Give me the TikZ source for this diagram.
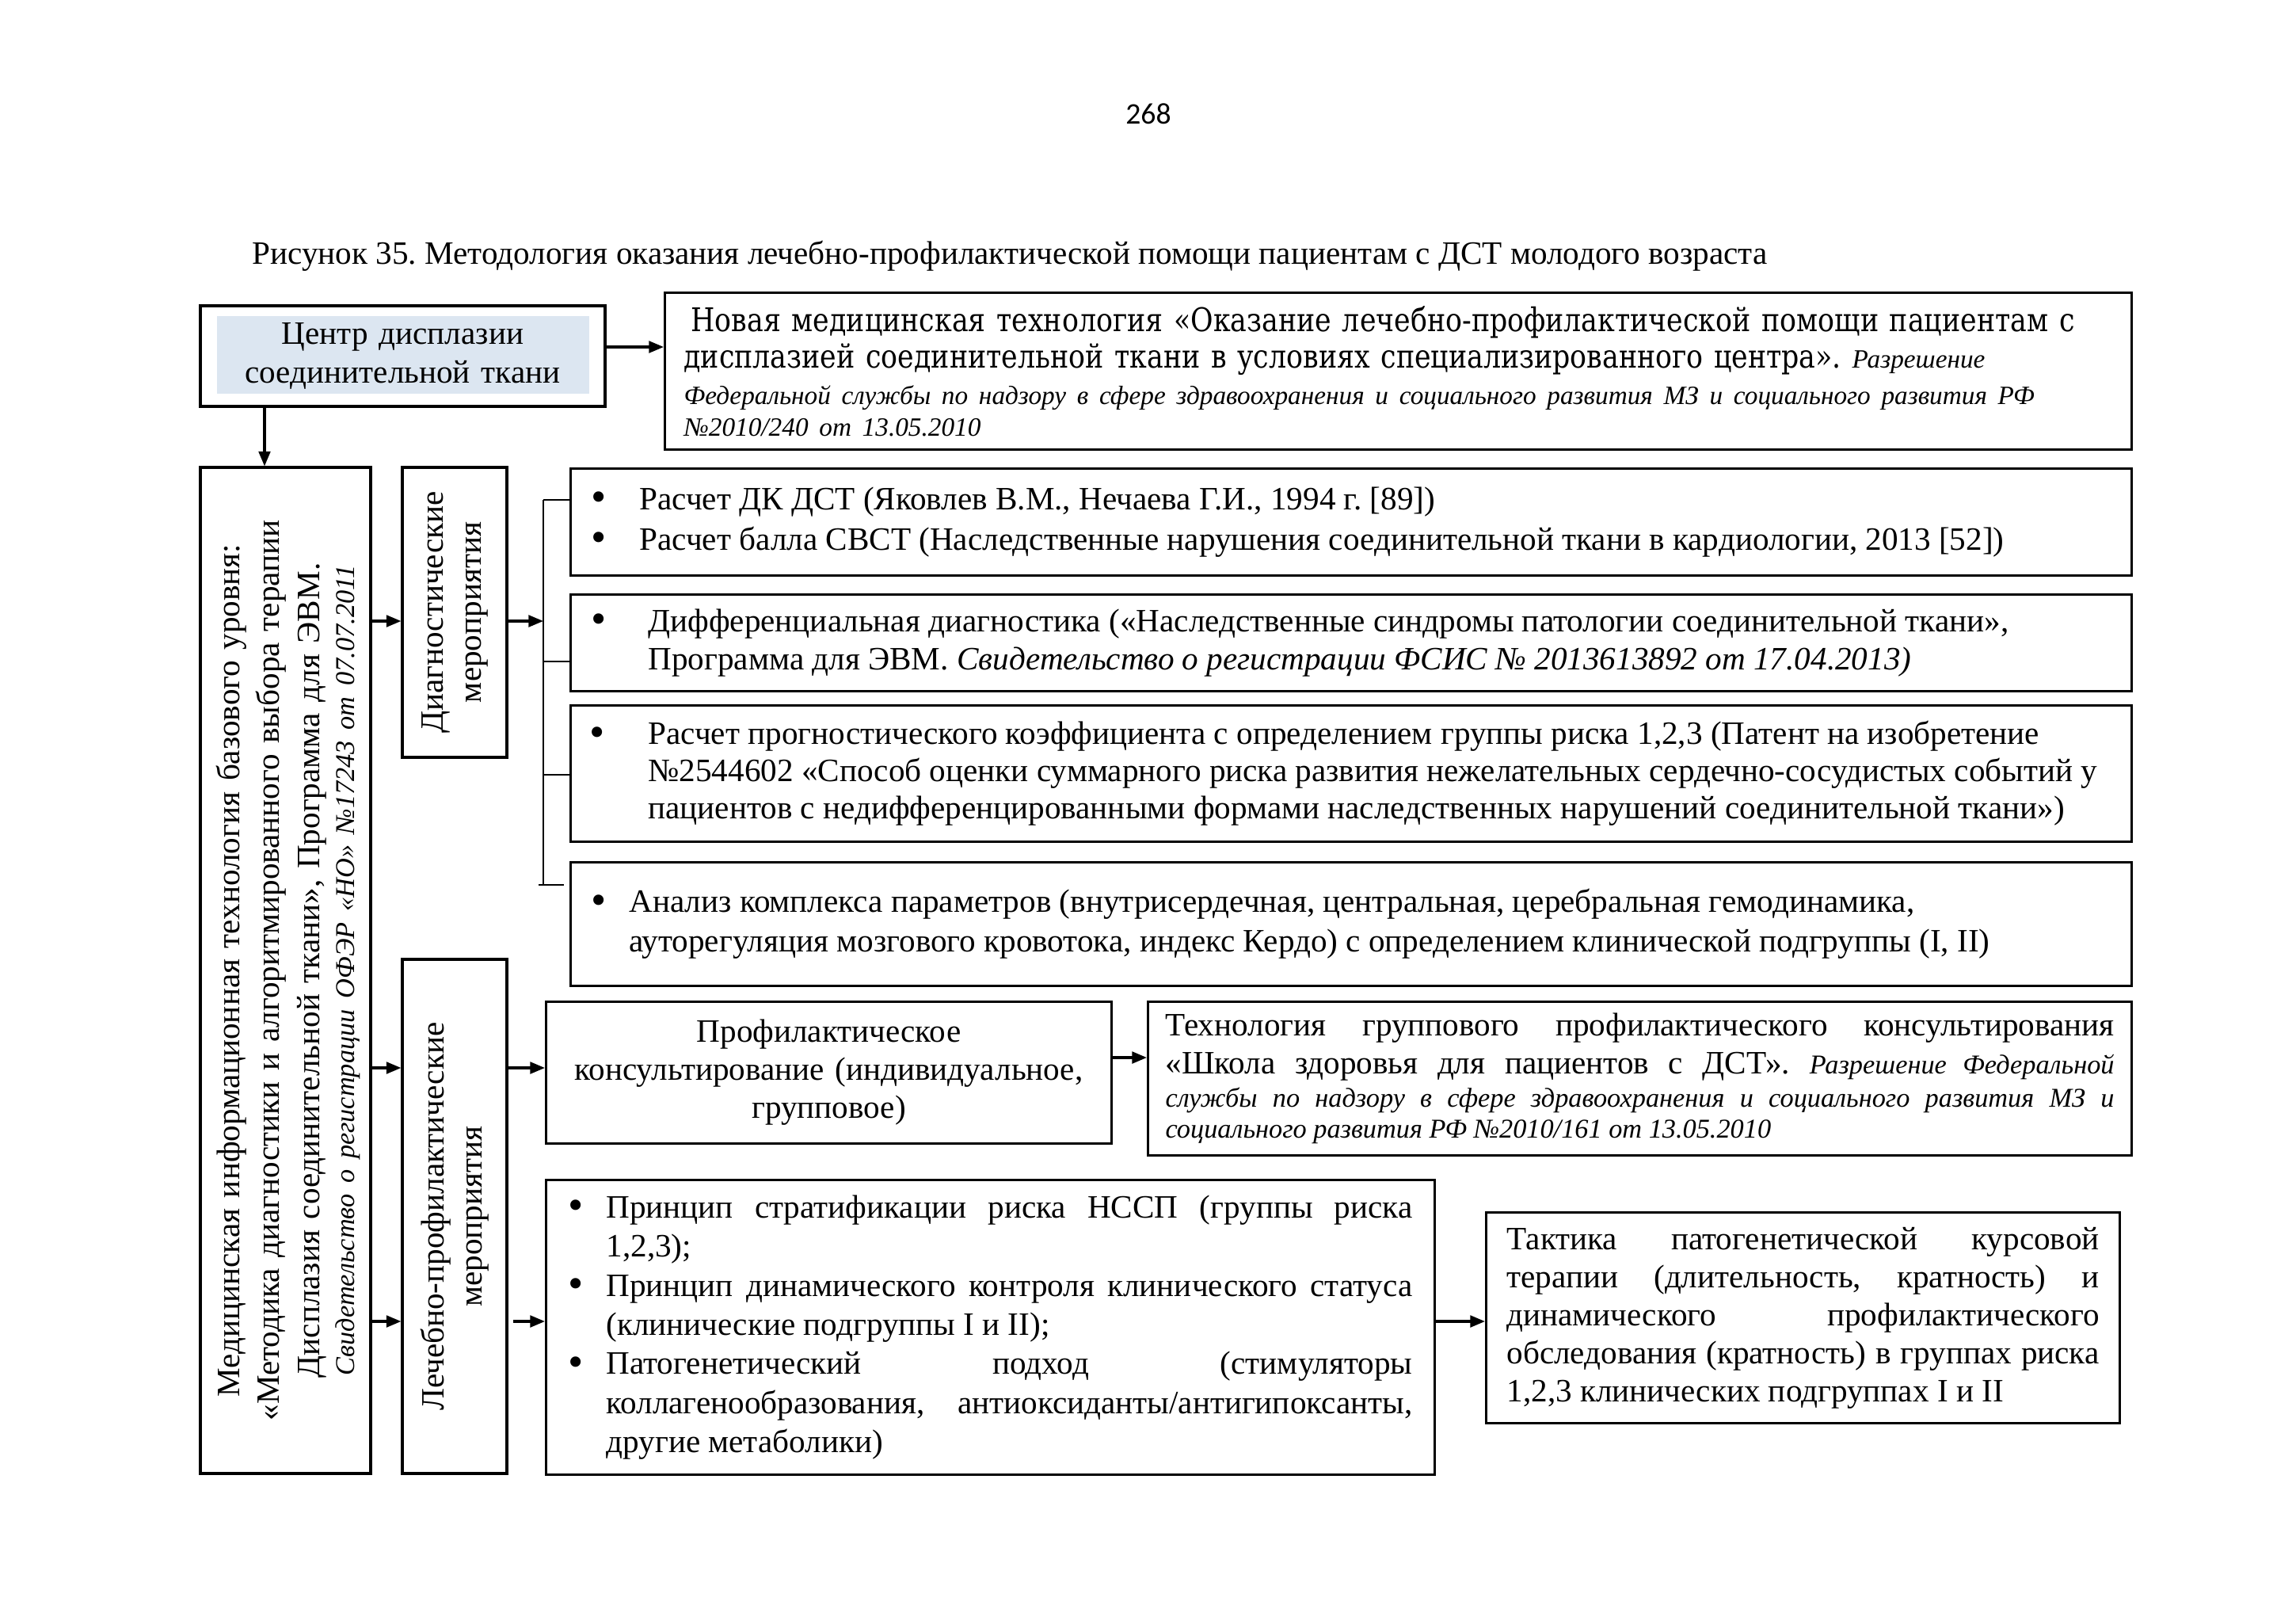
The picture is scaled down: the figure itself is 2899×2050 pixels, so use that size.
\documentclass[tikz,border=0pt]{standalone}
\usepackage{fontspec}
\setmainfont{Liberation Serif}
\newfontfamily\cambria[FakeStretch=0.845]{DejaVu Serif}
\newfontfamily\calibri{Carlito}
\usetikzlibrary{arrows.meta}
\definecolor{cfill}{HTML}{DCE6F1}
\newdimen\pxu \pxu=0.10245mm
\def\pxl{0.10245mm}
\frenchspacing
\newcommand\bigbul{\raisebox{-0.7pt}{\fontsize{16}{14}\selectfont\textbullet}}
\newcommand\bitem[2]{\noindent\hangindent=#1\pxu\hangafter=1\makebox[#1\pxu][l]{\bigbul}\ignorespaces#2\par}
\begin{document}
\begin{tikzpicture}[x=0.10245mm,y=-0.10245mm,
  box/.style={draw, line width=0.9pt, inner ysep=0pt, align=justify, anchor=north west,
    font=\fontsize{12}{14}\selectfont},
  frame/.style={draw, line width=0.9pt, inner sep=0pt},
  vtext/.style={rotate=90, inner sep=0pt, align=center, font=\fontsize{12}{14}\selectfont},
  arr/.style={line width=0.9pt, -{Triangle[length=1.9mm,width=1.5mm]}},
  brk/.style={line width=0.6pt},
]
\useasboundingbox (0,0) rectangle (2899,2050);
\fill[white] (0,0) rectangle (2899,2050);

\node[font=\calibri\fontsize{11}{13}\selectfont] (pnum) at (1450,144) {268};
\node[anchor=west, inner sep=0pt, font=\fontsize{12}{14}\selectfont\frenchspacing] (cap) at (318,323)
  {Рисунок 35. Методология оказания лечебно-профилактической помощи пациентам с ДСТ молодого возраста};

% Centre box
\node[fill=cfill, inner sep=0pt, minimum width={470*\pxl}, minimum height={98*\pxl}] (cfillbox) at (509,448) {};
\node[box, anchor=center, align=center, inner xsep={20*\pxl}, text width={471*\pxl},
  minimum height={127*\pxl}, fill=none] (centr) at (508.5,449.5)
  {Центр дисплазии\\соединительной ткани};

% New technology box
\node[box, align=left, inner xsep={24*\pxl}, text width={1804*\pxl}, minimum height={198*\pxl}] (newtech) at (838,368)
  {{\fontsize{12}{13.4}\selectfont\mbox{\cambria\hspace*{9\pxu}Новая медицинская технология «Оказание лечебно-профилактической помощи пациентам с}\newline
   \mbox{{\cambria дисплазией соединительной ткани в условиях специализированного центра».} {\fontsize{9.7}{12}\selectfont\itshape Разрешение}}\par}
   \vspace{1.8pt}
   {\fontsize{9.7}{11.6}\selectfont\itshape \mbox{Федеральной службы по надзору в сфере здравоохранения и социального развития МЗ и социального развития РФ}\newline
   \mbox{№2010/240 от 13.05.2010}\par}};

% Left big box
\node[frame, minimum width={215*\pxl}, minimum height={1270*\pxl}] (leftbox) at (360.5,1225) {};
\node[vtext, text width={1250*\pxl}] (lefttxt) at (364,1225)
  {{\fontsize{12}{14.6}\selectfont Медицинская информационная технология базового уровня:\\
   «Методика диагностики и алгоритмированного выбора терапии\\
   Дисплазия соединительной ткани», Программа для ЭВМ.\par}
   {\fontsize{10}{12.9}\selectfont\itshape Свидетельство о регистрации ОФЭР «НО» №17243 от 07.07.2011\par}};

% Diagnostic box
\node[frame, minimum width={132*\pxl}, minimum height={366*\pxl}] (diag) at (574,773) {};
\node[vtext, text width={340*\pxl}] (diagtxt) at (diag.center) {Диагностические\\мероприятия};

% Treatment box
\node[frame, minimum width={132*\pxl}, minimum height={649*\pxl}] (lech) at (574,1535.5) {};
\node[vtext, text width={620*\pxl}] (lechtxt) at (lech.center) {Лечебно-профилактические\\мероприятия};

% Diagnostic items
\node[box, inner xsep={26*\pxl}, text width={1919*\pxl}, minimum height={135*\pxl},
  font=\fontsize{12}{14.9}\selectfont] (b1) at (719,590)
  {\bitem{61}{\mbox{Расчет ДК ДСТ (Яковлев В.М., Нечаева Г.И., 1994 г. [89])}}
   \bitem{61}{\mbox{Расчет балла СВСТ (Наследственные нарушения соединительной ткани в кардиологии, 2013 [52])}}};

\node[box, inner xsep={26*\pxl}, text width={1919*\pxl}, minimum height={122*\pxl}] (b2) at (719,749)
  {\bitem{72}{\mbox{Дифференциальная диагностика («Наследственные синдромы патологии соединительной ткани»,}\newline
   \mbox{Программа для ЭВМ. \textit{Свидетельство о регистрации ФСИС № 2013613892 от 17.04.2013)}}}};

\node[box, inner xsep={24*\pxl}, text width={1923*\pxl}, minimum height={172*\pxl},
  font=\fontsize{12}{13.7}\selectfont] (b3) at (719,889)
  {\bitem{74}{\mbox{Расчет прогностического коэффициента с определением группы риска 1,2,3 (Патент на изобретение}\newline
   \mbox{№2544602 «Способ оценки суммарного риска развития нежелательных сердечно-сосудистых событий у}\newline
   \mbox{пациентов с недифференцированными формами наследственных нарушений соединительной ткани»)}}};

\node[box, inner xsep={26*\pxl}, text width={1919*\pxl}, minimum height={156*\pxl},
  font=\fontsize{12}{14.6}\selectfont] (b4) at (719,1087)
  {\bitem{48}{\mbox{Анализ комплекса параметров (внутрисердечная, центральная, церебральная гемодинамика,}\newline
   \mbox{ауторегуляция мозгового кровотока, индекс Кердо) с определением клинической подгруппы (I, II)}}\vspace{16pt}};

% Prophylactic counselling
\node[box, align=center, inner xsep={20*\pxl}, text width={674*\pxl}, minimum height={179*\pxl}] (profil) at (688,1263)
  {Профилактическое\\консультирование (индивидуальное,\\групповое)};

\node[box, inner xsep={22*\pxl}, text width={1198*\pxl}, minimum height={194*\pxl}] (tech) at (1448,1263)
  {{\parfillskip=0pt Технология группового профилактического консультирования\linebreak
   «Школа здоровья для пациентов с ДСТ». {\fontsize{10}{12}\selectfont\itshape Разрешение Федеральной}\par}
   \vspace{0.8pt}
   {\fontsize{10}{11.4}\selectfont\itshape службы по надзору в сфере здравоохранения и социального развития МЗ и\linebreak
   социального развития РФ №2010/161 от 13.05.2010\par}};

% Principles box
\node[box, inner xsep={28*\pxl}, text width={1066*\pxl}, minimum height={372*\pxl},
  font=\fontsize{12}{14.4}\selectfont] (bottom) at (688,1488)
  {\bitem{48}{Принцип стратификации риска НССП (группы риска\linebreak 1,2,3);}
   \bitem{48}{Принцип динамического контроля клинического статуса\linebreak (клинические подгруппы I и II);}
   \bitem{48}{Патогенетический подход (стимуляторы\linebreak коллагенообразования, антиоксиданты/антигипоксанты,\linebreak другие метаболики)}};

\node[box, inner xsep={26*\pxl}, text width={748*\pxl}, minimum height={266*\pxl},
  font=\fontsize{12}{14}\selectfont] (tactic) at (1875,1529)
  {Тактика патогенетической курсовой\linebreak терапии (длительность, кратность) и\linebreak
   динамического профилактического\linebreak обследования (кратность) в группах риска\linebreak
   1,2,3 клинических подгруппах I и II};

% Connectors
\draw[arr] (centr.east |- 0,438) -- (newtech.west |- 0,438);
\draw[arr] (334,0 |- centr.south) -- (334,0 |- leftbox.north);
\draw[arr] (leftbox.east |- 0,784) -- (diag.west |- 0,784);
\draw[arr] (leftbox.east |- 0,1348) -- (lech.west |- 0,1348);
\draw[arr] (leftbox.east |- 0,1668) -- (lech.west |- 0,1668);

\coordinate (brtop) at (686,631);
\coordinate (brbot) at (686,1117);
\coordinate (brmid) at (686,784);
\coordinate (brbotL) at (680,1117);
\coordinate (brbotR) at (712,1117);
\draw[arr] (diag.east |- brmid) -- (brmid);
\draw[brk] (brtop) -- (brbot);
\draw[brk] (brtop) -- (b1.west |- brtop);
\draw[brk] (686,835) -- (b2.west |- 0,835);
\draw[brk] (686,978) -- (b3.west |- 0,978);
\draw[brk] (brbotL) -- (brbotR);

\draw[arr] (lech.east |- 0,1348) -- (profil.west |- 0,1348);
\draw[arr] (profil.east |- 0,1335) -- (tech.west |- 0,1335);
\draw[arr, shorten <=0.7mm] (lech.east |- 0,1668) -- (bottom.west |- 0,1668);
\draw[arr] (bottom.east |- 0,1668) -- (tactic.west |- 0,1668);
\end{tikzpicture}
\end{document}
